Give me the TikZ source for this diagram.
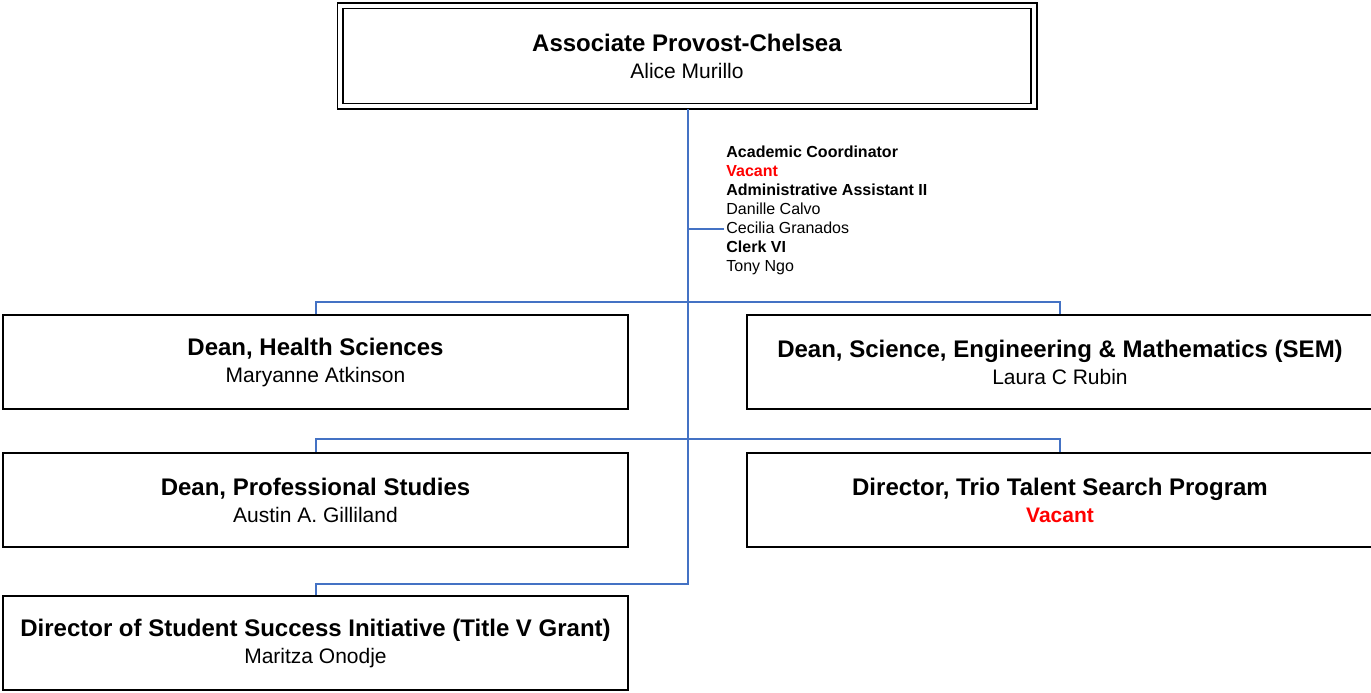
\documentclass[tikz,border=0pt]{standalone}
\usepackage{fontspec}
\setmainfont{Liberation Sans}
\definecolor{lineblue}{RGB}{68,114,196}
\definecolor{vred}{RGB}{255,0,0}
\tikzset{
  unitbox/.style={draw=black, line width=1pt, minimum width=312.5pt, minimum height=47pt,
    inner sep=0pt, align=center, font=\fontsize{12}{13.5}\selectfont},
  topbox/.style={draw=black, line width=0.85pt, double=white, double distance=2pt,
    minimum width=346.8pt, minimum height=50.3pt, inner sep=0pt, align=center,
    font=\fontsize{12}{13.5}\selectfont},
  conn/.style={draw=lineblue, line width=1pt},
  stafftext/.style={inner sep=0pt, align=left, anchor=west, font=\fontsize{8}{9.5}\selectfont},
}
\newcommand{\boxlines}[2]{\textbf{#1}\\{\fontsize{10.5}{13.5}\selectfont #2}}
\begin{document}
\begin{tikzpicture}[x=0.5pt,y=-0.5pt]
\useasboundingbox (0,0) rectangle (1371,692);
% boxes
\node[topbox] (top) at (687,56) {\boxlines{Associate Provost-Chelsea}{Alice Murillo}};
\node[unitbox] (hs) at (315.5,362) {\boxlines{Dean, Health Sciences}{Maryanne Atkinson}};
\node[unitbox, minimum width=313pt] (sem) at (1060,362) {\boxlines{Dean, Science, Engineering \& Mathematics (SEM)}{Laura C Rubin}};
\node[unitbox] (ps) at (315.5,500) {\boxlines{Dean, Professional Studies}{Austin A. Gilliland}};
\node[unitbox, minimum width=313pt] (trio) at (1060,500) {\textbf{Director, Trio Talent Search Program}\\{\fontsize{10.5}{13.5}\selectfont\bfseries\color{vred}Vacant}};
\node[unitbox] (ssi) at (315.5,643) {\boxlines{Director of Student Success Initiative (Title V Grant)}{Maritza Onodje}};
% staff text
\node[stafftext] (staff) at (726,210) {\textbf{Academic Coordinator}\\
  {\bfseries\color{vred}Vacant}\\
  \textbf{Administrative Assistant II}\\
  Danille Calvo\\
  Cecilia Granados\\
  \textbf{Clerk VI}\\
  Tony Ngo};
% junctions
\coordinate (j0) at (688,229);
\coordinate (se) at (724,229);
\coordinate (j1) at (688,302);
\coordinate (j2) at (688,439);
\coordinate (j3) at (688,584);
\coordinate (ts) at (688,109);
% connectors
\draw[conn] (ts) -- (j3) -| (ssi.north);
\draw[conn] (j0) -- (se);
\draw[conn] (j1) -| (hs.north);
\draw[conn] (j1) -| (sem.north);
\draw[conn] (j2) -| (ps.north);
\draw[conn] (j2) -| (trio.north);
\end{tikzpicture}
\end{document}
